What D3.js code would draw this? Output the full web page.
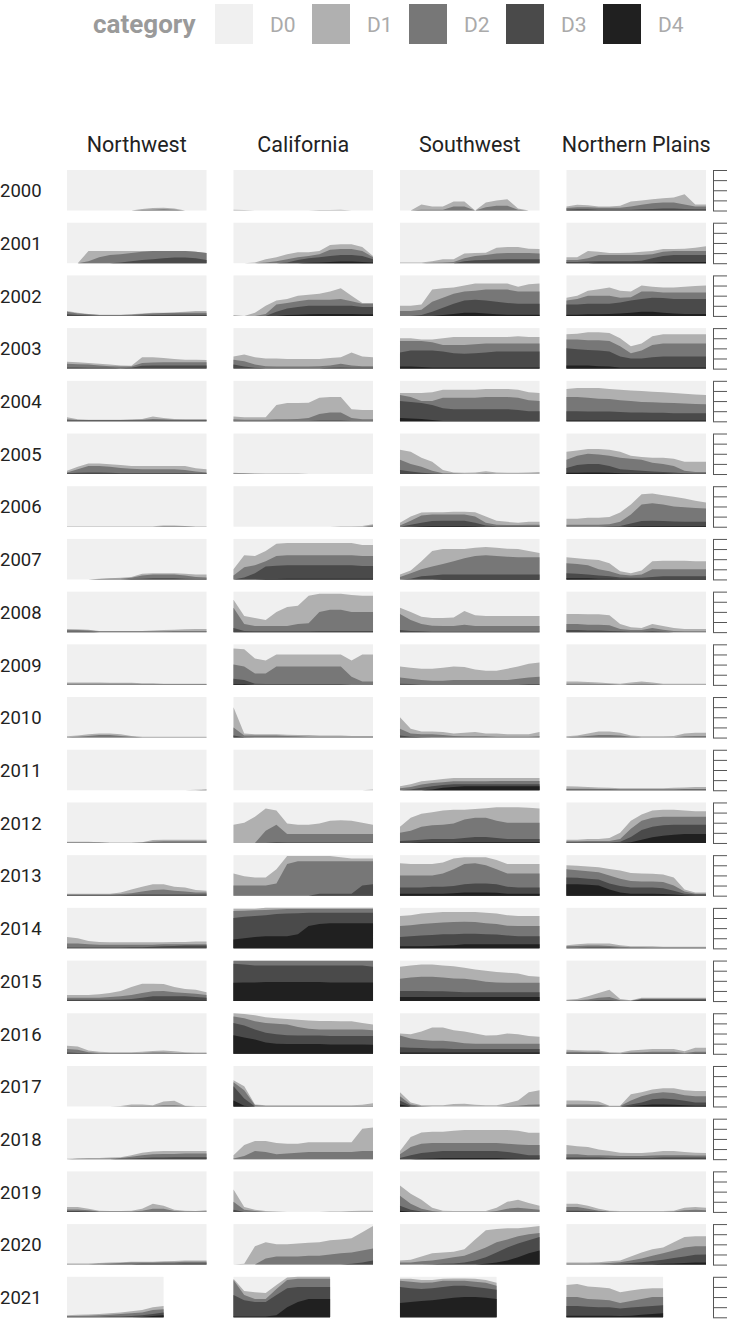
<!DOCTYPE html>
<html>
<head>
<meta charset="utf-8">
<script src="https://cdn.jsdelivr.net/npm/d3@7"></script>
<style>
  html, body { margin: 0; padding: 0; background: #ffffff; }
  text { font-family: Roboto, "Noto Sans", sans-serif; }
</style>
</head>
<body>
<script>
const regions = ["Northwest", "California", "Southwest", "Northern Plains"];
const years = [2000,2001,2002,2003,2004,2005,2006,2007,2008,2009,2010,2011,2012,2013,2014,2015,2016,2017,2018,2019,2020,2021];
const categories = ["D0", "D1", "D2", "D3", "D4"];
const categoryColors = ["#f0f0f0", "#b0b0b0", "#777777", "#4a4a4a", "#202020"];
const weeks = [0,4,8,12,16,20,24,28,32,36,40,44,48,52];
const yTicks = [0,25,50,75,100];

// cumulative percent of area in category or worse, one row per year
const northwestD1 = [
[0,0,0,0,0,0,0,4,6,7,5,0,0,0],
[0,0,30,30,30,30,30,30,30,30,30,30,28,25],
[12,8,5,3,3,3,4,6,8,8,9,10,12,12],
[17,16,14,12,10,8,7,28,28,26,24,22,22,21],
[10,5,4,4,4,4,5,6,12,8,6,5,5,5],
[8,18,26,26,24,22,20,20,20,20,20,20,14,12],
[1,1,1,1,1,1,1,1,1,3,3,2,1,1],
[0,0,0,2,3,4,6,14,15,15,15,14,12,12],
[8,7,6,3,3,3,3,3,4,5,6,7,8,8],
[6,6,6,6,5,5,5,4,4,3,3,3,3,3],
[3,5,8,10,10,8,4,2,2,2,2,2,2,2],
[0,0,0,0,0,0,0,0,0,0,0,0,1,2],
[3,3,3,2,1,1,1,2,7,8,8,8,8,8],
[5,5,5,5,5,8,15,22,28,28,22,20,14,12],
[28,25,18,16,15,15,15,15,15,15,16,16,17,17],
[15,15,15,17,20,25,35,43,43,42,35,30,28,22],
[20,18,8,5,4,4,4,5,7,8,6,4,3,3],
[0,0,0,0,0,1,5,5,3,12,14,2,1,1],
[1,2,3,3,4,5,10,16,19,20,20,20,20,20],
[12,12,8,3,2,2,3,8,20,15,5,3,2,4],
[3,3,3,4,5,6,7,7,7,8,9,10,10,10],
[5,6,7,8,10,12,15,18,25,28]
];
const northwestD2 = [
[0,0,0,0,0,0,0,1,2,3,2,0,0,0],
[0,0,5,15,20,22,25,28,30,30,30,30,28,25],
[10,6,4,2,2,2,3,5,6,7,7,8,8,8],
[12,11,10,8,6,5,5,14,15,16,16,16,16,16],
[5,3,3,3,3,3,3,4,6,5,4,4,4,4],
[4,12,20,20,18,15,13,12,12,12,12,10,6,4],
[0,0,0,0,0,0,0,0,0,1,1,1,0,0],
[0,0,0,1,2,2,4,10,12,12,12,10,6,5],
[5,5,4,2,2,2,2,2,2,2,3,3,3,3],
[3,3,3,3,3,3,3,2,2,2,2,2,2,2],
[1,2,4,6,6,4,2,1,1,1,1,1,1,1],
[0,0,0,0,0,0,0,0,0,0,0,0,0,1],
[1,1,1,1,0,0,0,1,3,4,4,4,4,4],
[3,3,3,3,3,4,6,10,14,15,12,10,8,8],
[12,12,10,9,9,9,9,9,9,10,10,10,10,10],
[8,8,8,8,10,12,15,20,24,25,22,20,18,15],
[12,10,4,2,2,2,2,2,3,3,2,2,1,1],
[0,0,0,0,0,0,1,1,1,3,3,1,0,0],
[0,1,1,1,2,3,6,10,12,13,13,14,14,14],
[6,6,4,1,1,1,1,3,8,8,2,1,1,1],
[1,1,1,2,3,4,5,5,5,6,6,7,7,7],
[3,3,4,5,6,8,10,12,18,20]
];
const northwestD3 = [
[0,0,0,0,0,0,0,0,0,0,0,0,0,0],
[0,0,0,0,0,2,5,8,10,12,14,14,12,8],
[4,2,1,0,0,0,0,1,2,2,3,3,3,3],
[3,3,2,2,2,1,2,7,8,8,8,8,8,8],
[2,2,2,2,2,2,2,2,2,2,2,2,2,2],
[2,3,4,4,3,2,2,2,2,2,2,2,1,1],
[0,0,0,0,0,0,0,0,0,0,0,0,0,0],
[0,0,0,0,0,0,1,2,3,3,3,2,1,1],
[1,1,1,0,0,0,0,0,0,0,0,0,0,0],
[0,0,0,0,0,0,0,0,0,0,0,0,0,0],
[0,0,0,0,0,0,0,0,0,0,0,0,0,0],
[0,0,0,0,0,0,0,0,0,0,0,0,0,0],
[0,0,0,0,0,0,0,0,0,0,0,0,0,0],
[1,1,1,1,1,1,2,3,3,3,3,3,3,3],
[2,2,2,2,2,2,3,3,4,5,6,7,7,7],
[3,3,3,3,3,4,5,8,12,12,12,12,10,8],
[3,2,1,0,0,0,0,0,0,0,0,0,0,0],
[0,0,0,0,0,0,0,0,0,0,0,0,0,0],
[0,0,0,0,0,1,2,3,4,4,5,5,5,5],
[2,2,1,0,0,0,0,0,0,0,0,0,0,0],
[0,0,0,0,1,1,1,2,2,2,2,3,3,3],
[1,1,1,1,2,2,3,5,8,12]
];
const northwestD4 = [
[0,0,0,0,0,0,0,0,0,0,0,0,0,0],
[0,0,0,0,0,0,0,0,0,0,0,0,0,0],
[0,0,0,0,0,0,0,0,0,0,0,0,0,0],
[0,0,0,0,0,0,0,0,0,0,0,0,0,0],
[0,0,0,0,0,0,0,0,0,0,0,0,0,0],
[0,0,0,0,0,0,0,0,0,0,0,0,0,0],
[0,0,0,0,0,0,0,0,0,0,0,0,0,0],
[0,0,0,0,0,0,0,0,0,0,0,0,0,0],
[0,0,0,0,0,0,0,0,0,0,0,0,0,0],
[0,0,0,0,0,0,0,0,0,0,0,0,0,0],
[0,0,0,0,0,0,0,0,0,0,0,0,0,0],
[0,0,0,0,0,0,0,0,0,0,0,0,0,0],
[0,0,0,0,0,0,0,0,0,0,0,0,0,0],
[0,0,0,0,0,0,0,0,0,0,0,0,0,0],
[0,0,0,0,0,0,0,0,0,0,0,0,0,0],
[0,0,0,0,0,0,0,0,1,1,1,1,1,1],
[0,0,0,0,0,0,0,0,0,0,0,0,0,0],
[0,0,0,0,0,0,0,0,0,0,0,0,0,0],
[0,0,0,0,0,0,0,0,0,0,0,0,0,0],
[0,0,0,0,0,0,0,0,0,0,0,0,0,0],
[0,0,0,0,0,0,0,0,0,0,0,0,0,0],
[0,0,0,0,0,0,0,1,3,5]
];

const californiaD1 = [
[2,1,0,0,0,0,0,0,1,1,2,0,0,0],
[0,0,2,10,15,22,27,27,30,45,47,47,40,18],
[2,0,8,25,38,42,50,52,55,60,68,50,32,32],
[30,35,28,25,25,24,24,24,24,26,28,40,30,28],
[12,10,10,10,40,45,45,46,58,60,60,30,28,28],
[3,2,2,1,1,1,1,0,0,0,0,0,0,0],
[0,0,0,0,0,0,0,0,0,0,1,1,2,6],
[25,60,58,70,88,90,90,90,90,90,90,90,85,85],
[80,40,35,30,50,62,65,90,95,95,95,92,90,90],
[90,88,65,60,75,75,75,75,75,75,75,60,75,75],
[75,10,8,8,8,7,6,6,5,5,5,4,4,4],
[0,0,0,0,0,0,0,0,0,0,0,0,0,2],
[45,50,65,85,80,48,45,45,48,55,56,55,50,45],
[55,48,45,45,65,98,98,98,98,98,95,92,92,92],
[98,98,98,100,100,100,100,100,100,100,100,100,100,100],
[100,100,100,100,100,100,100,100,100,100,100,100,100,100],
[100,98,95,90,88,86,84,82,81,81,80,80,76,72],
[65,50,5,3,3,3,3,3,3,3,3,3,4,8],
[10,35,45,45,40,38,38,42,42,42,42,42,75,78],
[55,12,5,2,1,0,0,0,0,1,1,2,3,3],
[0,2,45,55,50,50,52,54,55,60,62,65,80,95],
[95,65,62,60,80,98,100,100,100,100]
];
const californiaD2 = [
[0,0,0,0,0,0,0,0,0,0,0,0,0,0],
[0,0,0,2,5,10,15,18,22,33,35,35,30,15],
[0,0,0,5,28,32,36,40,40,40,42,36,30,30],
[22,18,10,6,5,5,5,5,6,8,12,8,6,6],
[5,4,4,4,5,5,6,8,18,22,22,8,5,5],
[1,1,0,0,0,0,0,0,0,0,0,0,0,0],
[0,0,0,0,0,0,0,0,0,0,0,0,0,3],
[10,30,35,45,58,60,60,60,60,60,60,60,58,58],
[60,20,15,15,15,15,20,22,50,55,55,50,50,50],
[50,45,28,28,45,45,45,45,45,45,45,20,8,8],
[25,5,5,5,5,4,3,2,2,2,2,2,2,2],
[0,0,0,0,0,0,0,0,0,0,0,0,0,0],
[0,0,0,30,45,22,22,22,22,22,22,22,22,22],
[25,25,25,25,30,78,85,85,85,85,85,85,85,85],
[92,93,94,95,96,97,97,97,97,97,97,97,97,97],
[99,99,99,99,99,99,99,99,99,99,99,99,99,99],
[92,88,80,76,74,72,66,62,60,60,60,60,60,58],
[60,40,3,1,1,1,1,1,1,1,1,1,1,1],
[2,8,20,18,12,14,16,18,18,18,18,18,20,20],
[25,5,2,0,0,0,0,0,0,0,0,0,0,0],
[0,0,0,15,20,20,20,22,22,25,28,30,35,40],
[92,55,45,45,70,92,95,95,95,95]
];
const californiaD3 = [
[0,0,0,0,0,0,0,0,0,0,0,0,0,0],
[0,0,0,0,0,2,8,12,15,18,20,20,18,10],
[0,0,0,0,10,18,22,25,25,25,25,25,22,22],
[10,5,2,1,1,1,1,1,1,2,3,2,2,2],
[1,1,1,1,1,1,1,1,2,2,2,1,1,1],
[0,0,0,0,0,0,0,0,0,0,0,0,0,0],
[0,0,0,0,0,0,0,0,0,0,0,0,0,0],
[0,5,15,32,34,35,35,35,35,35,35,35,33,33],
[10,3,2,2,2,2,2,2,3,3,3,3,3,3],
[15,12,3,2,2,2,2,2,2,2,2,1,1,1],
[5,1,0,0,0,0,0,0,0,0,0,0,0,0],
[0,0,0,0,0,0,0,0,0,0,0,0,0,0],
[0,0,0,0,2,1,1,1,1,1,1,1,1,1],
[0,0,0,0,0,0,0,0,5,5,5,5,25,28],
[75,78,80,82,85,86,87,88,88,88,88,88,88,88],
[92,90,88,88,88,88,88,88,88,88,88,88,88,85],
[76,70,60,52,48,46,45,45,45,44,44,44,44,44],
[50,20,0,0,0,0,0,0,0,0,0,0,0,0],
[0,0,0,0,0,0,0,0,0,0,0,0,0,0],
[5,0,0,0,0,0,0,0,0,0,0,0,0,0],
[0,0,0,0,0,0,0,0,0,0,0,2,5,10],
[55,42,38,38,55,72,75,75,75,75]
];
const californiaD4 = [
[0,0,0,0,0,0,0,0,0,0,0,0,0,0],
[0,0,0,0,0,0,0,1,2,3,4,4,3,2],
[0,0,0,0,0,2,3,4,5,5,5,5,4,4],
[0,0,0,0,0,0,0,0,0,0,0,0,0,0],
[0,0,0,0,0,0,0,0,0,0,0,0,0,0],
[0,0,0,0,0,0,0,0,0,0,0,0,0,0],
[0,0,0,0,0,0,0,0,0,0,0,0,0,0],
[0,0,0,1,1,2,2,2,2,2,2,2,2,2],
[0,0,0,0,0,0,0,0,0,0,0,0,0,0],
[2,2,0,0,0,0,0,0,0,0,0,0,0,0],
[0,0,0,0,0,0,0,0,0,0,0,0,0,0],
[0,0,0,0,0,0,0,0,0,0,0,0,0,0],
[0,0,0,0,0,0,0,0,0,0,0,0,0,0],
[0,0,0,0,0,0,0,0,0,0,0,0,0,0],
[22,25,28,30,30,30,35,55,60,62,62,62,62,62],
[45,46,46,47,47,47,47,47,47,46,46,46,46,46],
[46,40,35,28,25,24,24,24,24,23,23,23,23,22],
[15,2,0,0,0,0,0,0,0,0,0,0,0,0],
[0,0,0,0,0,0,0,0,0,0,0,0,0,0],
[0,0,0,0,0,0,0,0,0,0,0,0,0,0],
[0,0,0,0,0,0,0,0,0,0,0,0,0,0],
[2,2,2,2,5,25,38,45,45,45]
];

const southwestD1 = [
[0,0,15,10,10,22,22,0,20,25,28,5,0,0],
[2,2,2,5,10,10,24,25,26,38,40,40,36,35],
[25,25,28,65,68,70,75,80,80,80,80,72,78,80],
[75,75,72,72,75,78,78,78,78,78,78,80,78,78],
[70,70,70,72,78,78,78,78,80,80,80,78,72,70],
[60,55,40,30,10,4,3,4,7,4,3,3,4,5],
[10,25,35,36,36,37,37,36,25,15,12,10,12,12],
[12,22,45,70,75,75,75,78,80,78,76,75,70,65],
[60,50,38,35,35,36,52,42,40,40,40,40,40,40],
[45,42,40,40,42,45,44,38,35,35,40,45,52,55],
[50,22,15,15,14,10,12,14,10,10,8,8,8,14],
[10,15,22,25,28,30,30,30,30,30,30,30,30,30],
[40,62,72,76,80,82,82,84,86,88,88,88,87,85],
[80,78,78,78,82,92,95,95,95,88,78,78,78,78],
[80,82,86,88,90,90,90,90,88,86,82,80,80,80],
[85,88,90,90,88,86,82,78,75,72,70,68,62,60],
[50,48,55,65,65,58,55,50,45,46,50,48,44,42],
[35,10,3,3,3,6,7,4,3,3,8,15,35,40],
[20,55,66,68,68,70,72,72,72,72,72,70,65,65],
[65,45,30,10,3,2,2,2,2,10,25,30,22,15],
[10,12,20,28,30,32,38,62,85,88,90,90,92,95],
[95,95,92,92,95,96,96,95,92,85]
];
const southwestD2 = [
[0,0,2,2,2,10,10,0,8,12,12,2,0,0],
[0,0,0,1,2,3,12,18,20,24,25,25,25,24],
[12,12,15,35,45,55,60,62,65,65,65,60,60,60],
[68,68,68,65,58,58,58,60,62,62,62,62,62,62],
[65,60,50,50,58,58,58,58,60,60,60,58,52,50],
[35,25,18,8,2,1,0,0,1,0,0,0,0,0],
[3,15,28,30,30,30,30,25,10,5,4,4,5,5],
[6,15,25,32,38,45,52,58,60,58,56,55,55,55],
[45,30,20,16,15,15,18,15,15,15,15,15,15,15],
[18,15,12,10,10,12,12,12,12,12,12,15,18,20],
[22,10,8,8,6,4,3,3,3,2,2,2,2,3],
[5,8,14,18,20,22,22,22,22,23,23,23,23,23],
[25,30,40,44,45,48,58,62,62,55,50,50,50,50],
[50,50,50,50,55,65,78,80,75,65,55,55,55,55],
[55,57,60,62,64,65,66,65,62,60,56,55,55,55],
[55,58,60,60,58,56,55,52,48,46,45,45,45,45],
[45,38,34,32,32,30,26,25,25,25,25,25,25,25],
[25,5,1,0,0,0,0,0,0,0,1,2,4,5],
[12,30,38,40,40,40,40,40,40,40,38,36,35,35],
[40,20,8,2,0,0,0,0,0,2,8,10,8,5],
[5,5,8,10,14,18,22,32,42,55,62,70,75,78],
[90,88,85,86,90,90,90,88,85,78]
];
const southwestD3 = [
[0,0,0,0,0,0,0,0,0,0,0,0,0,0],
[0,0,0,0,0,0,5,7,8,9,10,10,10,10],
[0,0,2,10,20,30,38,40,38,35,32,30,30,30],
[40,45,45,45,42,38,37,38,40,42,42,42,42,42],
[50,48,45,40,32,30,30,30,30,30,30,28,25,25],
[10,6,3,1,0,0,0,0,0,0,0,0,0,0],
[0,5,10,14,15,15,15,10,3,1,1,1,1,1],
[0,2,8,10,12,12,12,12,12,12,12,12,12,12],
[5,3,2,1,1,1,1,1,1,1,1,1,1,1],
[3,2,1,1,1,1,1,1,1,1,1,1,2,2],
[5,2,1,0,0,0,0,0,0,0,0,0,0,0],
[0,2,6,10,13,15,15,15,15,15,15,15,15,15],
[5,6,8,10,10,10,12,15,15,12,10,10,10,10],
[20,20,20,22,22,24,28,30,30,28,22,20,20,20],
[28,30,32,33,35,35,36,36,35,34,32,30,30,30],
[25,25,25,24,24,23,22,22,22,22,22,22,22,22],
[16,15,14,13,13,12,12,12,12,12,12,12,12,12],
[15,2,0,0,0,0,0,0,0,0,0,0,0,0],
[3,10,15,18,20,20,20,20,20,20,18,14,10,10],
[15,5,1,0,0,0,0,0,0,0,0,0,0,0],
[0,0,0,1,2,3,5,10,18,30,42,52,60,68],
[75,72,70,72,75,78,78,75,72,68]
];
const southwestD4 = [
[0,0,0,0,0,0,0,0,0,0,0,0,0,0],
[0,0,0,0,0,0,0,0,0,0,0,0,0,0],
[0,0,0,0,2,5,8,8,6,4,3,3,3,3],
[5,5,4,3,3,3,3,3,3,3,3,3,3,3],
[8,7,6,3,1,1,1,1,1,1,1,1,1,1],
[0,0,0,0,0,0,0,0,0,0,0,0,0,0],
[0,0,1,2,2,2,2,1,0,0,0,0,0,0],
[0,0,0,0,1,1,1,1,1,1,1,1,1,1],
[0,0,0,0,0,0,0,0,0,0,0,0,0,0],
[0,0,0,0,0,0,0,0,0,0,0,0,0,0],
[0,0,0,0,0,0,0,0,0,0,0,0,0,0],
[0,0,0,2,6,8,10,10,10,10,10,10,10,10],
[0,0,1,1,1,1,2,2,2,2,2,2,2,2],
[5,5,5,5,5,6,8,8,8,7,5,5,5,5],
[5,5,5,6,7,8,10,10,10,10,10,10,10,10],
[10,10,10,10,10,10,10,10,10,10,10,10,10,10],
[3,3,3,3,3,3,3,3,3,3,3,3,3,3],
[5,0,0,0,0,0,0,0,0,0,0,0,0,0],
[0,0,1,2,3,3,3,3,3,3,2,1,1,1],
[3,0,0,0,0,0,0,0,0,0,0,0,0,0],
[0,0,0,0,0,0,0,0,2,5,10,18,28,35],
[35,38,40,42,45,48,50,50,48,45]
];

const northernPlainsD1 = [
[10,14,13,10,10,12,22,25,28,30,32,40,15,15],
[15,15,30,28,25,25,26,28,30,35,35,36,38,42],
[45,50,62,66,70,62,60,75,72,70,70,72,74,75],
[85,86,90,90,88,75,55,62,80,85,85,85,85,85],
[80,82,82,82,80,78,76,75,73,72,70,68,66,65],
[55,58,62,62,60,55,45,42,40,40,38,30,30,30],
[20,20,22,22,24,35,55,80,82,78,74,70,64,60],
[55,52,50,48,40,20,15,22,45,46,46,46,45,45],
[45,45,44,44,42,20,12,10,20,15,10,8,8,8],
[8,8,7,6,4,3,6,8,6,3,3,3,3,3],
[3,5,10,15,15,12,5,3,3,3,4,10,12,12],
[10,9,8,7,6,5,5,5,5,5,6,7,8,8],
[8,8,10,10,12,25,55,70,80,82,82,80,78,78],
[75,74,72,70,66,62,56,55,54,52,45,15,8,8],
[8,10,12,12,12,8,5,5,5,4,4,4,4,4],
[3,5,12,20,28,5,2,8,8,8,8,8,8,8],
[10,9,8,8,4,3,8,10,12,12,12,6,15,15],
[15,15,14,12,2,2,30,35,42,45,45,40,38,38],
[35,32,30,24,20,16,15,15,17,20,20,18,16,15],
[20,20,15,8,3,2,2,2,2,2,3,10,12,10],
[5,5,5,6,8,10,20,30,38,42,55,68,70,70],
[80,82,76,74,72,62,66,70,72,72]
];
const northernPlainsD2 = [
[6,8,8,7,7,7,10,14,18,20,20,15,10,10],
[8,8,12,20,20,20,20,20,22,28,30,30,30,30],
[38,42,50,50,50,45,46,60,60,58,58,58,58,58],
[72,72,70,70,68,55,38,45,58,62,62,62,62,62],
[60,60,58,56,55,52,50,48,47,46,45,44,43,42],
[35,45,50,48,45,40,38,35,28,25,20,8,5,5],
[5,5,5,5,6,12,30,55,58,55,50,48,46,45],
[40,38,35,25,20,12,10,12,25,25,25,25,25,25],
[20,20,18,18,17,8,5,5,10,6,3,2,2,2],
[3,3,3,2,2,1,2,3,2,1,1,1,1,1],
[1,2,4,6,6,5,2,1,1,1,1,3,4,4],
[4,4,4,3,3,2,2,2,2,2,2,3,3,3],
[4,4,5,5,5,10,35,55,62,65,65,65,65,65],
[65,63,60,58,50,42,36,35,35,34,25,10,5,5],
[5,6,7,7,6,4,3,3,2,2,2,2,2,2],
[1,2,4,8,10,2,1,6,6,6,6,6,6,6],
[5,5,4,4,2,1,3,4,5,5,5,2,5,5],
[5,5,5,4,1,1,15,25,32,35,33,28,25,25],
[12,12,10,10,9,8,8,8,9,10,10,10,9,9],
[12,12,8,3,1,0,0,0,0,0,1,4,5,4],
[2,2,2,3,4,6,10,15,22,28,35,42,45,45],
[50,50,45,44,42,35,40,45,50,50]
];
const northernPlainsD3 = [
[2,3,3,2,2,2,2,3,4,5,5,4,3,3],
[3,3,4,5,5,5,5,6,12,18,20,20,20,20],
[28,28,30,30,30,33,38,42,45,44,42,42,42,42],
[50,48,46,45,42,30,25,25,28,30,30,30,30,30],
[25,25,24,24,24,23,22,22,21,21,20,20,20,20],
[15,22,25,25,20,12,10,8,6,5,4,2,1,1],
[0,0,0,0,1,2,8,14,15,14,13,12,12,12],
[15,14,12,10,8,5,4,4,6,8,8,8,8,8],
[5,5,4,4,3,2,1,1,2,1,0,0,0,0],
[0,0,0,0,0,0,0,0,0,0,0,0,0,0],
[0,0,0,0,0,0,0,0,0,0,0,0,0,0],
[1,1,1,1,1,1,1,1,1,1,1,1,1,1],
[1,1,1,1,1,3,15,32,40,44,45,45,45,45],
[45,44,42,40,30,24,20,20,20,18,12,5,3,3],
[1,1,2,2,2,1,1,1,1,1,1,1,1,1],
[0,0,1,2,2,0,0,4,4,4,4,4,4,4],
[1,1,1,1,0,0,1,1,1,1,1,0,1,1],
[1,1,1,1,0,0,5,10,18,20,18,14,10,10],
[4,4,4,4,3,3,3,3,3,4,4,4,4,4],
[3,3,2,1,0,0,0,0,0,0,0,0,0,0],
[0,0,0,0,1,2,4,6,9,12,16,20,24,25],
[28,28,26,25,25,22,24,26,28,30]
];
const northernPlainsD4 = [
[0,0,0,0,0,0,0,0,0,0,0,0,0,0],
[0,0,0,1,1,1,1,1,2,3,3,3,3,3],
[3,3,4,4,5,6,8,10,10,8,6,5,5,5],
[8,8,8,6,5,3,3,3,3,3,3,3,3,3],
[2,2,2,2,2,2,2,2,2,2,2,2,2,2],
[3,3,4,4,3,2,1,1,1,1,0,0,0,0],
[0,0,0,0,0,0,1,2,2,2,2,2,2,2],
[3,3,3,2,2,1,1,1,1,1,1,1,1,1],
[0,0,0,0,0,0,0,0,0,0,0,0,0,0],
[0,0,0,0,0,0,0,0,0,0,0,0,0,0],
[0,0,0,0,0,0,0,0,0,0,0,0,0,0],
[0,0,0,0,0,0,0,0,0,0,0,0,0,0],
[0,0,0,0,0,0,2,8,14,18,20,22,22,22],
[28,28,27,25,15,8,5,5,5,4,3,1,0,0],
[0,0,0,0,0,0,0,0,0,0,0,0,0,0],
[0,0,0,0,0,0,0,0,0,0,0,0,0,0],
[0,0,0,0,0,0,0,0,0,0,0,0,0,0],
[0,0,0,0,0,0,1,3,5,5,4,3,2,2],
[0,0,0,0,0,0,0,0,0,0,0,0,0,0],
[0,0,0,0,0,0,0,0,0,0,0,0,0,0],
[0,0,0,0,0,0,0,1,1,2,3,4,5,5],
[4,4,4,4,4,3,4,6,8,10]
];

const seriesByRegion = {
  "Northwest": [northwestD1, northwestD2, northwestD3, northwestD4],
  "California": [californiaD1, californiaD2, californiaD3, californiaD4],
  "Southwest": [southwestD1, southwestD2, southwestD3, southwestD4],
  "Northern Plains": [northernPlainsD1, northernPlainsD2, northernPlainsD3, northernPlainsD4]
};

const W = 730, H = 1320;
const svg = d3.select("body").append("svg").attr("width", W).attr("height", H);

const color = d3.scaleOrdinal().domain(categories).range(categoryColors);
const colX = d3.scaleBand().domain(regions).range([67, 706]).paddingInner(0.162);
const rowY = d3.scaleBand().domain(years).range([170, 1317.3]).paddingInner(0.2315);
const x = d3.scaleLinear().domain([0, 52]).range([0, colX.bandwidth()]);
const y = d3.scaleLinear().domain([0, 100]).range([rowY.bandwidth(), 0]);

// legend
const legend = svg.append("g");
legend.append("text").attr("x", 93).attr("y", 33)
  .attr("font-size", 26).attr("font-weight", "bold").attr("fill", "#9a9a9a")
  .text("category");
const legendX = d3.scalePoint().domain(categories).range([215, 603]);
categories.forEach(c => {
  legend.append("rect").attr("x", legendX(c)).attr("y", 4)
    .attr("width", 38).attr("height", 40).attr("fill", color(c));
  legend.append("text").attr("x", legendX(c) + 55).attr("y", 32)
    .attr("font-size", 21).attr("fill", "#aaaaaa").text(c);
});

// column headers
regions.forEach(r => {
  svg.append("text").attr("x", colX(r) + colX.bandwidth() / 2).attr("y", 152)
    .attr("text-anchor", "middle").attr("font-size", 21.5).attr("fill", "#222")
    .text(r);
});

// row labels
years.forEach(yr => {
  svg.append("text").attr("x", 0).attr("y", rowY(yr) + rowY.bandwidth() / 2 + 7)
    .attr("font-size", 18.5).attr("fill", "#222").text(yr);
});

const area = d3.area()
  .x(d => x(d.w))
  .y0(y(0))
  .y1(d => y(d.v));

regions.forEach(region => {
  const series = seriesByRegion[region];
  years.forEach((yr, yi) => {
    const g = svg.append("g").attr("transform", `translate(${colX(region)},${rowY(yr)})`);
    const n = series[0][yi].length;
    g.append("rect").attr("x", x(weeks[0])).attr("y", y(100))
      .attr("width", x(weeks[n - 1]) - x(weeks[0])).attr("height", y(0) - y(100))
      .attr("fill", color("D0"));
    series.forEach((s, k) => {
      const pts = s[yi].map((v, i) => ({ w: weeks[i], v }));
      g.append("path").attr("d", area(pts)).attr("fill", color(categories[k + 1]));
    });
  });
});

// right-hand axes
years.forEach(yr => {
  const ax = svg.append("g").attr("transform", `translate(713,${rowY(yr)})`)
    .call(d3.axisRight(y).tickValues(yTicks).tickSize(14).tickSizeOuter(0).tickFormat(""));
  ax.selectAll("path, line").attr("stroke", "#555");
});
</script>
</body>
</html>
